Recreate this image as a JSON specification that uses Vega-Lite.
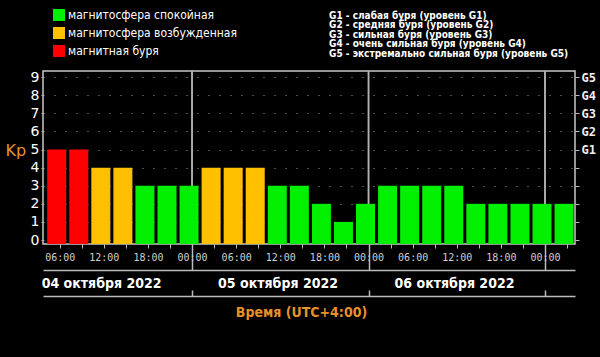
{
  "$schema": "https://vega.github.io/schema/vega-lite/v6.json",
  "width": 532,
  "height": 173,
  "autosize": {"type": "none"},
  "padding": {"left": 43, "top": 71, "right": 25, "bottom": 113},
  "background": "#000000",
  "config": {
    "view": {"stroke": "#c8c8c8", "strokeWidth": 1.5, "fill": "#000000"},
    "font": "DejaVu Sans"
  },
  "title": {
    "text": [
      "G1 - слабая буря (уровень G1)",
      "G2 - средняя буря (уровень G2)",
      "G3 - сильная буря (уровень G3)",
      "G4 - очень сильная буря (уровень G4)",
      "G5 - экстремально сильная буря (уровень G5)"
    ],
    "anchor": "start",
    "frame": "group",
    "dx": 286,
    "offset": -50,
    "fontSize": 10,
    "font": "DejaVu Sans Condensed",
    "fontWeight": "bold",
    "color": "#ffffff",
    "lineHeight": 9.6
  },
  "layer": [
    {
      "data": {"values": [{"h": 24}, {"h": 48}, {"h": 72}]},
      "mark": {"type": "rule", "color": "#b4b4b4", "strokeWidth": 1.5},
      "encoding": {
        "x": {
          "field": "h", "type": "quantitative",
          "scale": {"domain": [3.73, 76.08], "nice": false, "zero": false, "padding": 0},
          "axis": {
            "orient": "bottom", "offset": 26, "domain": true, "domainColor": "#bbbbbb", "domainWidth": 1.5,
            "grid": false, "values": [24, 48, 72], "tickSize": -26,
            "tickColor": "#bbbbbb", "tickWidth": 1.5,
            "labelExpr": "'0' + (datum.value / 24 + 3) + ' октября 2022'",
            "labelOffset": -91, "labelFont": "DejaVu Sans Condensed", "labelFontWeight": "bold",
            "labelFontSize": 14, "labelColor": "#ffffff", "labelPadding": 32,
            "labelFlush": false, "labelOverlap": false, "labelBound": false, "title": null
          }
        }
      }
    },
    {
      "data": {"values": [{"h": 24}, {"h": 48}, {"h": 72}]},
      "mark": {"type": "rule", "color": "#b4b4b4", "strokeWidth": 1.5},
      "encoding": {
        "x": {
          "field": "h", "type": "quantitative",
          "scale": {"domain": [3.73, 76.08], "nice": false, "zero": false, "padding": 0},
          "axis": {
            "orient": "bottom", "offset": 52, "domain": true, "domainColor": "#bbbbbb", "domainWidth": 1.5,
            "grid": false, "values": [24, 48, 72], "tickSize": -6,
            "tickColor": "#bbbbbb", "tickWidth": 1.5, "labels": false,
            "title": "Время (UTC+4:00)", "titleColor": "#e8902a", "titleFont": "DejaVu Sans Condensed",
            "titleFontWeight": "bold", "titleFontSize": 14, "titlePadding": 9,
            "titleX": 258, "titleAlign": "center"
          }
        },
        "y": {
          "datum": 9.34, "type": "quantitative",
          "scale": {"domain": [-0.22, 9.34], "nice": false, "zero": false, "padding": 0},
          "axis": {
            "orient": "right", "values": [0, 1, 2, 3, 4, 5, 6, 7, 8, 9], "domain": false, "grid": false,
            "tickSize": 4, "tickColor": "#bbbbbb",
            "labelExpr": "datum.value >= 5 ? 'G' + (datum.value - 4) : ''",
            "labelFont": "DejaVu Sans Mono", "labelFontWeight": "bold", "labelFontSize": 12,
            "labelColor": "#f0f0f0", "labelPadding": 2, "title": null
          }
        },
        "y2": {"datum": -0.22}
      }
    },
    {
      "data": {"values": [
        {"h": 6, "kp": 5, "state": "магнитная буря"},
        {"h": 9, "kp": 5, "state": "магнитная буря"},
        {"h": 12, "kp": 4, "state": "магнитосфера возбужденная"},
        {"h": 15, "kp": 4, "state": "магнитосфера возбужденная"},
        {"h": 18, "kp": 3, "state": "магнитосфера спокойная"},
        {"h": 21, "kp": 3, "state": "магнитосфера спокойная"},
        {"h": 24, "kp": 3, "state": "магнитосфера спокойная"},
        {"h": 27, "kp": 4, "state": "магнитосфера возбужденная"},
        {"h": 30, "kp": 4, "state": "магнитосфера возбужденная"},
        {"h": 33, "kp": 4, "state": "магнитосфера возбужденная"},
        {"h": 36, "kp": 3, "state": "магнитосфера спокойная"},
        {"h": 39, "kp": 3, "state": "магнитосфера спокойная"},
        {"h": 42, "kp": 2, "state": "магнитосфера спокойная"},
        {"h": 45, "kp": 1, "state": "магнитосфера спокойная"},
        {"h": 48, "kp": 2, "state": "магнитосфера спокойная"},
        {"h": 51, "kp": 3, "state": "магнитосфера спокойная"},
        {"h": 54, "kp": 3, "state": "магнитосфера спокойная"},
        {"h": 57, "kp": 3, "state": "магнитосфера спокойная"},
        {"h": 60, "kp": 3, "state": "магнитосфера спокойная"},
        {"h": 63, "kp": 2, "state": "магнитосфера спокойная"},
        {"h": 66, "kp": 2, "state": "магнитосфера спокойная"},
        {"h": 69, "kp": 2, "state": "магнитосфера спокойная"},
        {"h": 72, "kp": 2, "state": "магнитосфера спокойная"},
        {"h": 75, "kp": 2, "state": "магнитосфера спокойная"}
      ]},
      "mark": {"type": "bar", "width": 19, "xOffset": -3},
      "encoding": {
        "x": {
          "field": "h", "type": "quantitative",
          "scale": {"domain": [3.73, 76.08], "nice": false, "zero": false, "padding": 0},
          "axis": {
            "orient": "bottom", "offset": 0, "domain": false, "grid": false,
            "values": [6, 9, 12, 15, 18, 21, 24, 27, 30, 33, 36, 39, 42, 45, 48, 51, 54, 57, 60, 63, 66, 69, 72, 75],
            "tickSize": 4, "tickColor": "#bbbbbb",
            "labelExpr": "datum.value % 6 == 0 ? ((datum.value % 24) < 10 ? '0' : '') + (datum.value % 24) + ':00' : ''",
            "labelFont": "DejaVu Sans Mono", "labelFontSize": 10, "labelColor": "#d0d0d0",
            "labelPadding": 4, "labelFlush": false, "labelOverlap": false, "labelBound": false, "title": null
          }
        },
        "y": {
          "field": "kp", "type": "quantitative",
          "scale": {"domain": [-0.22, 9.34], "nice": false, "zero": false, "padding": 0},
          "axis": {
            "orient": "left", "values": [0, 1, 2, 3, 4, 5, 6, 7, 8, 9], "domain": false,
            "grid": true, "gridColor": "#9a9a9a", "gridDash": [1, 10], "gridWidth": 1,
            "tickSize": 2, "tickColor": "#bbbbbb",
            "labelFont": "DejaVu Sans", "labelFontSize": 14, "labelColor": "#ffffff", "labelPadding": 2,
            "title": "Kp", "titleColor": "#e8902a", "titleFont": "DejaVu Sans", "titleFontSize": 16,
            "titleFontWeight": "normal", "titleAngle": 0, "titleAlign": "left", "titleBaseline": "middle",
            "titleX": -38, "titleY": 79
          }
        },
        "y2": {"datum": -0.22},
        "color": {
          "field": "state", "type": "nominal",
          "scale": {
            "domain": ["магнитосфера спокойная", "магнитосфера возбужденная", "магнитная буря"],
            "range": ["#00f000", "#ffc000", "#ff0000"]
          },
          "legend": {
            "orient": "none", "legendX": 10, "legendY": -62, "direction": "vertical", "title": null,
            "symbolType": "square", "symbolSize": 144, "symbolStrokeWidth": 0, "symbolOpacity": 1,
            "labelColor": "#ffffff", "labelFont": "DejaVu Sans Condensed", "labelFontSize": 12, "labelLimit": 400,
            "labelOffset": 3, "rowPadding": 6, "padding": 0, "offset": 0
          }
        }
      }
    }
  ],
  "resolve": {"axis": {"x": "independent", "y": "independent"}}
}
